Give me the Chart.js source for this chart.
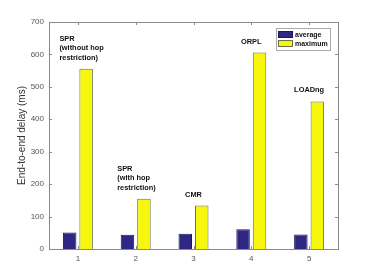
<!DOCTYPE html>
<html>
<head>
<meta charset="utf-8">
<script src="https://cdn.jsdelivr.net/npm/chart.js@4"></script>
<style>
  html, body { margin: 0; padding: 0; background: #fff; }
  #wrap { width: 374px; height: 280px; }
</style>
</head>
<body>
<div id="wrap"><canvas id="delay_chart" width="374" height="280"></canvas></div>
<script>
// values
const categories = ['1', '2', '3', '4', '5'];
const averageDelay = [51, 44, 47, 61, 45];
const maximumDelay = [556, 155, 134, 606, 455];
const yTicks = [0, 100, 200, 300, 400, 500, 600, 700];
const protocolNames = [
    ['SPR', '(without hop', 'restriction)'],
    ['SPR', '(with hop', 'restriction)'],
    ['CMR'],
    ['ORPL'],
    ['LOADng']
];
const seriesNames = ['average', 'maximum'];

const axisColor = '#8a8a8a';
const textColor = '#555';

// box round the axes with inward ticks, bar labels and the legend
const matlabLook = {
    id: 'matlabLook',
    afterDatasetsDraw(chart) {
        const c = chart.ctx;
        const area = chart.chartArea;
        const xs = chart.scales.x, ys = chart.scales.y;
        c.save();
        c.strokeStyle = axisColor;
        c.lineWidth = 1;
        c.strokeRect(area.left + 0.5, area.top + 0.5, area.right - area.left, area.bottom - area.top);
        c.beginPath();
        for (var i = 0; i < categories.length; i++) {
            var px = Math.round(xs.getPixelForValue(i)) + 0.5;
            c.moveTo(px, area.bottom); c.lineTo(px, area.bottom - 3);
            c.moveTo(px, area.top); c.lineTo(px, area.top + 3);
        }
        for (var j = 0; j < yTicks.length; j++) {
            var py = Math.round(ys.getPixelForValue(yTicks[j])) + 0.5;
            c.moveTo(area.left, py); c.lineTo(area.left + 3, py);
            c.moveTo(area.right, py); c.lineTo(area.right - 3, py);
        }
        c.stroke();

        // protocol names above the maximum bars
        c.fillStyle = '#111';
        c.font = 'bold 7.4px "Liberation Sans", Arial, sans-serif';
        c.textBaseline = 'middle';
        c.textAlign = 'left';
        for (var k = 0; k < protocolNames.length; k++) {
            var lines = protocolNames[k];
            var w = 0;
            lines.forEach(function(l) { w = Math.max(w, c.measureText(l).width); });
            var left = xs.getPixelForValue(k) - Math.min(w / 2, 18.5);
            var lastY = ys.getPixelForValue(maximumDelay[k]) - 11;
            for (var n = 0; n < lines.length; n++) {
                c.fillText(lines[n], left, lastY - (lines.length - 1 - n) * 9.6);
            }
        }

        // legend
        c.font = 'bold 7px "Liberation Sans", Arial, sans-serif';
        var lx = area.right - 62, ly = area.top + 6;
        c.fillStyle = '#fff';
        c.fillRect(lx, ly, 54, 22);
        c.strokeStyle = '#aaa';
        c.strokeRect(lx + 0.5, ly + 0.5, 54, 22);
        chart.data.datasets.forEach(function(ds, d) {
            var ry = ly + 3 + d * 9;
            c.fillStyle = ds.backgroundColor;
            c.fillRect(lx + 2, ry, 15, 7);
            c.strokeStyle = ds.borderColor;
            c.strokeRect(lx + 2.5, ry + 0.5, 14, 6);
            c.fillStyle = '#111';
            c.fillText(ds.label, lx + 19, ry + 4);
        });
        c.restore();
    }
};

new Chart(document.getElementById('delay_chart'), {
    type: 'bar',
    data: {
        labels: categories,
        datasets: [{
            label: seriesNames[0],
            data: averageDelay,
            backgroundColor: '#2f2784',
            borderColor: '#1c1850',
            borderWidth: 1
        }, {
            label: seriesNames[1],
            data: maximumDelay,
            backgroundColor: '#f7f70e',
            borderColor: '#6e6e50',
            borderWidth: 1
        }]
    },
    options: {
        responsive: false,
        animation: false,
        datasets: { bar: { categoryPercentage: 0.57, barPercentage: 0.82 } },
        layout: { padding: { left: 16, top: 22, right: 36, bottom: 0 } },
        plugins: {
            legend: { display: false },
            tooltip: { enabled: false }
        },
        scales: {
            x: {
                grid: { display: false, drawTicks: false },
                border: { display: false },
                ticks: { color: textColor, font: { size: 8, family: '"Liberation Sans", Arial' }, padding: 5 },
                afterFit: function(s) { s.height = 31; }
            },
            y: {
                min: 0,
                max: 700,
                afterBuildTicks: function(s) { s.ticks = yTicks.map(function(v) { return { value: v }; }); },
                grid: { display: false, drawTicks: false },
                border: { display: false },
                ticks: { color: textColor, font: { size: 8, family: '"Liberation Sans", Arial' }, padding: 5 },
                title: {
                    display: true,
                    text: 'End-to-end delay (ms)',
                    color: '#333',
                    font: { size: 10, family: '"Liberation Sans", Arial' },
                    padding: { top: 0, bottom: 2 }
                },
                afterFit: function(s) { s.width = 33; }
            }
        }
    },
    plugins: [matlabLook]
});
</script>
</body>
</html>
